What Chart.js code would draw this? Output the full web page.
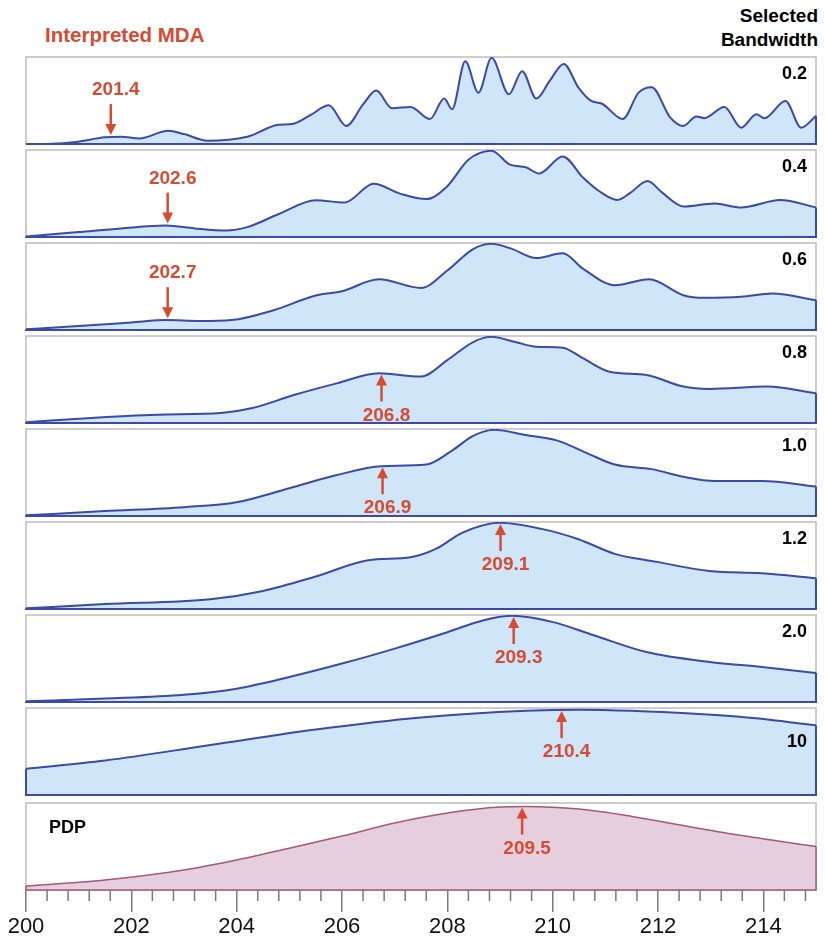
<!DOCTYPE html>
<html><head><meta charset="utf-8">
<script src="https://cdn.jsdelivr.net/npm/chart.js@4.4.1/dist/chart.umd.min.js"></script>
<style>
html,body{margin:0;padding:0;background:#fff;}
#wrap{position:relative;width:825px;height:938px;overflow:hidden;font-family:"Liberation Sans",Arial,sans-serif;}
.pane{position:absolute;left:0;width:825px;}
#t1{position:absolute;left:45px;top:25px;color:#d64b33;font-weight:bold;font-size:20.5px;line-height:20px;white-space:nowrap;}
#t2{position:absolute;right:7px;top:4px;text-align:right;font-weight:bold;font-size:19px;line-height:24px;color:#000;}
</style></head><body>
<div id="wrap">
<div id="t1">Interpreted MDA</div>
<div id="t2">Selected<br>Bandwidth</div>
</div>
<script>
// ---------- data ----------
const xMin = 200, xMax = 215;
const xTickLabels = [200, 202, 204, 206, 208, 210, 212, 214];
const bandwidthLabels = ['0.2', '0.4', '0.6', '0.8', '1.0', '1.2', '2.0', '10', 'PDP'];

const x02 = [200,200.5,200.9,201.5,201.8,202.15,202.7,203.0,203.45,204.2,204.8,205.05,205.4,205.75,206.08,206.4,206.65,206.95,207.3,207.67,207.94,208.09,208.34,208.59,208.84,209.17,209.42,209.69,209.94,210.21,210.49,210.73,210.93,211.33,211.63,211.88,212.23,212.48,212.73,212.88,213.26,213.58,213.87,214.02,214.42,214.72,215];
const y02 = [0,0.3,2,7.7,8.5,6.5,15.4,11.5,3.8,8.5,22.3,23.1,33.5,45,21,46,62,41.5,43,29,52.7,40.4,96,59.6,100,57.7,84.6,52.7,73,93,65.4,50,47,29,59.6,66,31,21,32,30,43,19,34.6,30,50,19,32.7];

const x04 = [200,201,201.8,202.66,203.2,203.8,204.2,204.8,205.5,206.05,206.6,207.1,207.6,208.0,208.4,208.84,209.19,209.49,209.74,210.19,210.58,210.88,211.23,211.48,211.8,212.08,212.48,213.08,213.58,214.32,215];
const y04 = [0.5,5.7,10,13.4,10,7.6,11.5,26.7,42.7,40,61.8,50.4,44,59,89.7,100,84,81,73.7,93.5,68.7,53.4,43,51.5,65,51.5,35.5,39,34.3,43,34.3];

const x06 = [200,201,202,202.66,203.3,203.9,204.7,205.5,206,206.7,207.5,208,208.49,208.84,209.19,209.69,210.19,210.58,211.18,211.83,212.48,212.88,213.58,214.17,215];
const y06 = [0.8,4.6,8.8,11.5,10.4,11.5,23,40,45,58.8,48.8,69,94,100,95,83.5,89,71,52,58.8,40.4,37.3,38.5,42.3,34.6];

const x08 = [200,201,202.5,203.7,204.3,205.1,205.9,206.7,207.5,208,208.49,208.84,209.29,209.69,210.19,210.58,211.08,211.78,212.48,212.98,214.07,215];
const y08 = [0.8,5,9.6,11.5,17.3,32.7,46,57.7,54,73,94,100,94,88.5,87.3,75,59.6,55.8,42.3,39.6,42.3,34.6];

const x10 = [200,201.5,203,204,205,205.9,206.75,207.6,208.09,208.49,208.89,209.49,210.09,210.68,211.18,211.88,212.48,213.08,213.97,215];
const y10 = [0.8,5.7,10.3,16,32.3,47.5,57.8,59.7,76,93,100,94,87.5,72.2,59.7,54.4,45.6,40.7,40.7,34.2];

const x12 = [200,201.5,203.5,204.5,205.5,206.5,207.3,207.79,208.29,208.99,209.79,210.49,211.18,211.98,212.98,213.97,215];
const y12 = [0.8,5.7,11.3,21,37.7,56.6,60,70,88.7,100,93,81,64,54.7,44,41.5,35.8];

const x20 = [200,201.5,203,204,205,206,207,208,208.69,209.24,209.99,210.78,211.78,212.98,213.97,215];
const y20 = [0.8,4,8.5,15.5,29,44.6,62,81,95,100,93,77.5,58,46.5,40.7,33.7];

const x100 = [200,201.5,203.5,205.5,207.5,209.5,210.5,211.5,213.5,215];
const y100 = [30.4,40,58,76,90,97.7,99,97.7,91,81];

const xPdp = [200,201.5,203,204,205,206,207,208,209,209.5,210.5,211.5,212.5,213.5,215];
const yPdp = [4.6,11.5,23,34.6,48,62,77,88.5,95.4,96,93,84.6,73.8,63.5,50];

const mdaArrowX = [201.61, 202.69, 202.69, 206.75, 206.77, 209.01, 209.26, 210.17, 209.42];
const mdaLabels = ['201.4', '202.6', '202.7', '206.8', '206.9', '209.1', '209.3', '210.4', '209.5'];
const mdaDirection = ['down', 'down', 'down', 'up', 'up', 'up', 'up', 'up', 'up'];

const seriesX = [x02, x04, x06, x08, x10, x12, x20, x100, xPdp];
const seriesY = [y02, y04, y06, y08, y10, y12, y20, y100, yPdp];

// ---------- style / layout ----------
const RED = '#d64b33';
const BLUE_LINE = '#3b4aa6', BLUE_FILL = '#cfe5f8';
const PDP_LINE = '#a3587c', PDP_FILL = '#e6cfdc';
const FONT = '"Liberation Sans", Arial, sans-serif';
const PANEL_H = 87, PAD_T = 6, PAD_B = 6, AXIS_H = 48;
function panelTop(i){ return i < 8 ? Math.round(56.5 + 93.05 * i) : 803; }

function interp(xs, ys, x){
  for (let i = 0; i < xs.length - 1; i++) {
    if (x >= xs[i] && x <= xs[i+1]) { const t = (x - xs[i]) / (xs[i+1] - xs[i]); return ys[i] + t * (ys[i+1] - ys[i]); }
  }
  return ys[ys.length - 1];
}

function makePlugin(i){
  const isPdp = i === 8;
  return {
    id: 'decor' + i,
    beforeDatasetsDraw(chart){
      const {ctx, chartArea: a} = chart;
      ctx.save();
      ctx.strokeStyle = '#bdbdbd'; ctx.lineWidth = 1.5;
      ctx.strokeRect(a.left, a.top, a.right - a.left, a.bottom - a.top);
      ctx.restore();
    },
    afterDatasetsDraw(chart){
      const {ctx, chartArea: a, scales: {x, y}} = chart;
      const xs = seriesX[i], ys = seriesY[i];
      ctx.save();
      ctx.strokeStyle = isPdp ? PDP_LINE : BLUE_LINE;
      ctx.lineWidth = isPdp ? 1.5 : 2;
      ctx.beginPath();
      ctx.moveTo(a.left, y.getPixelForValue(ys[0]));
      ctx.lineTo(a.left, a.bottom);
      ctx.lineTo(a.right, a.bottom);
      ctx.lineTo(a.right, y.getPixelForValue(ys[ys.length - 1]));
      ctx.stroke();
      ctx.fillStyle = '#000';
      ctx.font = 'bold 18px ' + FONT;
      ctx.textBaseline = 'middle';
      if (isPdp) { ctx.textAlign = 'left'; ctx.fillText(bandwidthLabels[i], a.left + 23, a.top + 25); }
      else { ctx.textAlign = 'right'; ctx.fillText(bandwidthLabels[i], a.right - 9, a.top + (bandwidthLabels[i] === '10' ? 34 : 17)); }
      const ax = x.getPixelForValue(mdaArrowX[i]);
      const cy = y.getPixelForValue(interp(xs, ys, mdaArrowX[i]));
      ctx.fillStyle = RED; ctx.strokeStyle = RED; ctx.lineWidth = 2.5;
      let tip, tail, labY; const dir = mdaDirection[i] === 'down' ? 1 : -1;
      if (dir === 1) { tip = cy - 2; tail = tip - 31; labY = tip - 45; }
      else { tip = Math.max(cy + 1, a.top + 1); tail = tip + 27; labY = tip + 41; }
      const headLen = 11, headW = 5.5;
      ctx.beginPath(); ctx.moveTo(ax, tail); ctx.lineTo(ax, tip - dir * headLen * 0.8); ctx.stroke();
      ctx.beginPath();
      ctx.moveTo(ax, tip);
      ctx.lineTo(ax - headW, tip - dir * headLen);
      ctx.lineTo(ax + headW, tip - dir * headLen);
      ctx.closePath(); ctx.fill();
      ctx.font = 'bold 19px ' + FONT;
      ctx.textAlign = 'center'; ctx.textBaseline = 'middle';
      ctx.fillText(mdaLabels[i], ax + 5, labY);
      ctx.restore();
    }
  };
}

const wrap = document.getElementById('wrap');
for (let i = 0; i < 9; i++) {
  const isLast = i === 8;
  const div = document.createElement('div');
  div.className = 'pane';
  div.style.top = (panelTop(i) - PAD_T) + 'px';
  div.style.height = (PAD_T + PANEL_H + (isLast ? AXIS_H : PAD_B)) + 'px';
  const cv = document.createElement('canvas');
  div.appendChild(cv);
  wrap.appendChild(div);
  const xs = seriesX[i], ys = seriesY[i];
  const xScale = { type: 'linear', min: xMin, max: xMax, display: isLast };
  if (isLast) Object.assign(xScale, {
    afterBuildTicks: s => { s.ticks = xTickLabels.map(v => ({value: v})); },
    afterFit: s => { s.height = AXIS_H; },
    grid: { drawOnChartArea: false, drawTicks: true, tickLength: 22, color: '#7a7a7a', lineWidth: 1.5 },
    border: { display: false },
    ticks: { font: { size: 22, family: FONT }, color: '#111', padding: 2, maxRotation: 0, autoSkip: false }
  });
  new Chart(cv, {
    type: 'line',
    data: { datasets: [{
      data: xs.map((v, k) => ({x: v, y: ys[k]})),
      fill: 'origin',
      backgroundColor: isLast ? PDP_FILL : BLUE_FILL,
      borderColor: isLast ? PDP_LINE : BLUE_LINE,
      borderWidth: isLast ? 1.5 : 2,
      pointRadius: 0,
      cubicInterpolationMode: 'monotone'
    }]},
    options: {
      responsive: true, maintainAspectRatio: false, animation: false,
      layout: { padding: { left: 26, right: 9, top: PAD_T, bottom: isLast ? 0 : PAD_B } },
      plugins: { legend: { display: false }, tooltip: { enabled: false } },
      scales: {
        x: xScale,
        y: { min: 0, max: isLast ? 100 : 101, display: false }
      }
    },
    plugins: [makePlugin(i), isLast ? {
      id: 'minorTicks',
      afterDraw(chart){
        const {ctx, chartArea: a, scales: {x}} = chart;
        ctx.save(); ctx.strokeStyle = '#7a7a7a'; ctx.lineWidth = 1.5;
        for (let k = 1; k < 38; k++) {
          const v = xMin + k * 0.4;
          if (Math.abs(v / 2 - Math.round(v / 2)) < 1e-6) continue;
          const px = x.getPixelForValue(v);
          ctx.beginPath(); ctx.moveTo(px, a.bottom); ctx.lineTo(px, a.bottom + 11); ctx.stroke();
        }
        ctx.restore();
      }
    } : {id: 'noop' + i}]
  });
}
</script>
</body></html>
